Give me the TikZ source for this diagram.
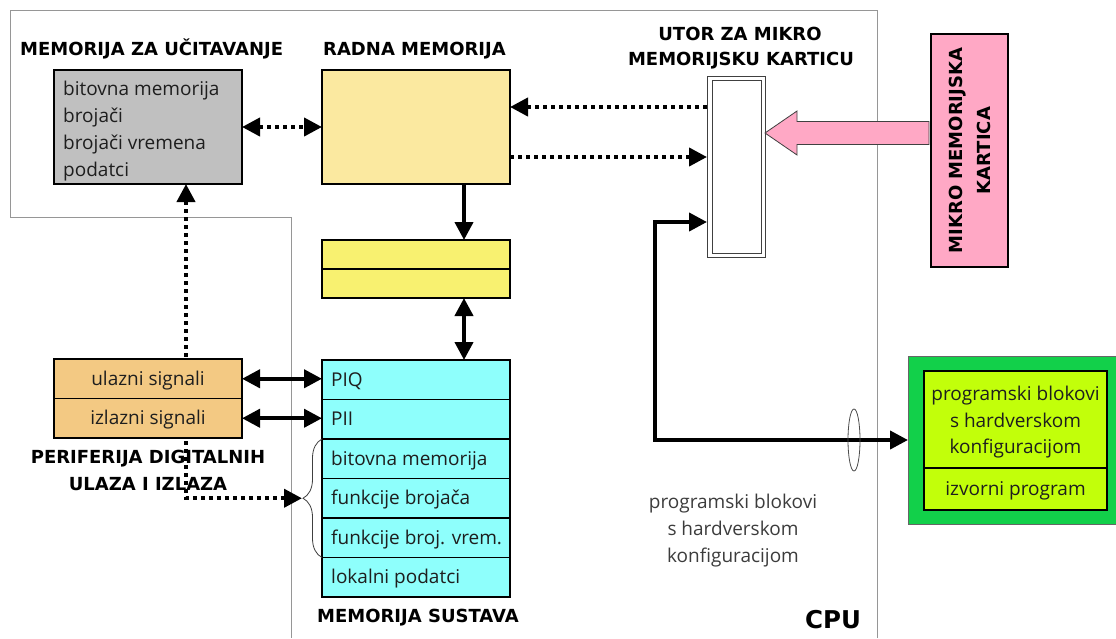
\documentclass[tikz,border=0pt]{standalone}
\usepackage{fontspec}
\setmainfont{Open Sans}
\newfontfamily\headfont{DejaVu Sans}
\usetikzlibrary{arrows.meta,decorations.pathreplacing,calc,shapes.geometric}

\definecolor{loadgray}{RGB}{192,192,192}
\definecolor{workyellow}{RGB}{251,233,160}
\definecolor{bufyellow}{RGB}{248,241,112}
\definecolor{syscyan}{RGB}{142,255,252}
\definecolor{ioorange}{RGB}{243,201,131}
\definecolor{cardpink}{RGB}{255,168,197}
\definecolor{extgreen}{RGB}{18,208,74}
\definecolor{extlime}{RGB}{194,255,10}
\definecolor{framegray}{RGB}{150,150,150}
\definecolor{inktext}{RGB}{30,30,30}
\definecolor{softtext}{RGB}{60,60,60}

\begin{document}
\begin{tikzpicture}[x=1pt,y=-1pt,
  >={Triangle[length=18pt,width=18pt]},
  blk/.style={draw=black, line width=1.2pt, inner sep=0pt, outer sep=0pt, anchor=north west},
  body/.style={font=\fontsize{19}{22}\selectfont, text=inktext, inner sep=0pt},
  ttl/.style={font=\headfont\fontsize{18}{21}\selectfont\bfseries, text=black, inner sep=0pt},
  solidline/.style={line width=4pt, line join=miter},
  dotline/.style={line width=4pt, dash pattern=on 4pt off 4pt},
  thin/.style={line width=0.8pt, draw=black!75}]

\useasboundingbox (0,0) rectangle (1116,638);

% CPU outline
\draw[framegray, line width=0.8pt] (877,638) -- (877,10) -- (10,10) -- (10,217) -- (291,217) -- (291,638);

% load memory
\node[blk, fill=loadgray, minimum width=188pt, minimum height=114pt] (load) at (54,70) {};
\node[ttl, anchor=base west] (loadT) at (20,55) {MEMORIJA ZA UČITAVANJE};
\node[body, anchor=base west] (load1) at (63,95) {bitovna memorija};
\node[body, anchor=base west] (load2) at (63,122) {brojači};
\node[body, anchor=base west] (load3) at (63,149) {brojači vremena};
\node[body, anchor=base west] (load4) at (63,176) {podatci};

% work memory
\node[blk, fill=workyellow, minimum width=188pt, minimum height=114pt] (work) at (322,70) {};
\node[ttl, anchor=base west] (workT) at (323,55) {RADNA MEMORIJA};

% buffer
\node[blk, fill=bufyellow, minimum width=188pt, minimum height=29pt] (buf1) at (322,240) {};
\node[blk, fill=bufyellow, minimum width=188pt, minimum height=29pt] (buf2) at (322,269) {};

% system memory
\foreach \i/\t in {1/PIQ,2/PII,3/bitovna memorija,4/funkcije brojača,5/funkcije broj. vrem.,6/lokalni podatci}{
  \node[blk, fill=syscyan, minimum width=188pt, minimum height=39.5pt] (sys\i) at (322,{360+(\i-1)*39.5}) {};
  \node[body, anchor=base west] (syst\i) at ($(sys\i.west)+(9,6.5)$) {\t};
}
\node[ttl, anchor=base] (sysT) at (418,622) {MEMORIJA SUSTAVA};

% brace over the grouped rows
\draw[thin, decorate, decoration={brace, amplitude=19pt}] (sys5.south west) -- (sys3.north west);
\coordinate (bracetip) at ($(sys4.west)+(-20,0)$);

% dotted link from the group to the load memory
\coordinate (lk) at ($(load.south west)+(132,0)$);
\draw[dotline, <->] (lk) -- (lk |- bracetip) -- (bracetip);

% digital I/O periphery
\node[blk, fill=ioorange, minimum width=188pt, minimum height=39.5pt] (in) at (54,359) {};
\node[blk, fill=ioorange, minimum width=188pt, minimum height=39.5pt] (out) at (54,398.5) {};
\node[body, anchor=base] (inT) at ($(in.center)+(0,6.5)$) {ulazni signali};
\node[body, anchor=base] (outT) at ($(out.center)+(0,6.5)$) {izlazni signali};
\node[ttl, anchor=base] (ioT1) at (148,463) {PERIFERIJA DIGITALNIH};
\node[ttl, anchor=base] (ioT2) at (148,490) {ULAZA I IZLAZA};

% card slot
\node[thin, fill=white, anchor=north west, inner sep=0pt, outer sep=0pt, minimum width=58pt, minimum height=181pt] (slot) at (707,76) {};
\draw[thin] ($(slot.north west)+(5,4)$) rectangle ($(slot.south east)+(-4,-4)$);
\node[ttl, anchor=base] (slotT1) at (740,40) {UTOR ZA MIKRO};
\node[ttl, anchor=base] (slotT2) at (741,65) {MEMORIJSKU KARTICU};

% micro memory card
\node[blk, fill=cardpink, minimum width=77pt, minimum height=233pt] (card) at (931,34) {};
\node[font=\headfont\fontsize{18}{28}\selectfont\bfseries, rotate=90, align=center, inner sep=0pt] (cardT) at (card.center) {MIKRO MEMORIJSKA\\KARTICA};

% insertion arrow
\coordinate (pktail) at (929,133);
\coordinate (pktip) at (slot.east |- pktail);
\draw[thin, fill=cardpink] (pktip) -- ($(pktip)+(32,-22)$) -- ($(pktip)+(32,-11.5)$) -- ($(pktail)+(0,-11.5)$)
  -- ($(pktail)+(0,11.5)$) -- ($(pktip)+(32,11.5)$) -- ($(pktip)+(32,22)$) -- cycle;

% external programming device
\node[blk, draw=black!60, line width=0.8pt, fill=extgreen, minimum width=208pt, minimum height=168pt] (ext) at (908,356) {};
\node[blk, fill=extlime, minimum width=183pt, minimum height=97pt] (ext1) at (924,371) {};
\node[blk, fill=extlime, minimum width=183pt, minimum height=42pt] (ext2) at (924,468) {};
\node[body, anchor=base] (extT1) at (1015.5,400) {programski blokovi};
\node[body, anchor=base] (extT2) at (1015.5,427) {s hardverskom};
\node[body, anchor=base] (extT3) at (1015.5,453) {konfiguracijom};
\node[body, anchor=base] (extT4) at (1015.5,495) {izvorni program};

% caption inside CPU
\node[body, text=softtext, anchor=base] (capT1) at (733,508) {programski blokovi};
\node[body, text=softtext, anchor=base] (capT2) at (733,535) {s hardverskom};
\node[body, text=softtext, anchor=base] (capT3) at (733,562) {konfiguracijom};
\node[font=\headfont\fontsize{24.5}{25}\selectfont\bfseries, anchor=base, inner sep=0pt] (cpuT) at (833,628) {CPU};

% connectors
\draw[dotline, <->] (load.east) -- (work.west);
\coordinate (wa) at ($(work.north east)+(0,37)$);
\coordinate (wb) at ($(work.north east)+(0,87)$);
\draw[dotline, <-] (wa) -- (wa -| slot.west);
\draw[dotline, ->] (wb) -- (wb -| slot.west);

\coordinate (wd) at ($(work.south east)+(-46,0)$);
\draw[solidline, ->] (wd) -- (wd |- buf1.north);
\coordinate (bd) at ($(buf2.south east)+(-46,0)$);
\draw[solidline, <->] (bd) -- (bd |- sys1.north);

\draw[solidline, <->] (in.east) -- (in.east -| sys1.west);
\draw[solidline, <->] (out.east) -- (out.east -| sys2.west);

\coordinate (sk) at ($(slot.north west)+(0,146)$);
\draw[solidline, <->] (sk) -- ($(sk)+(-52,0)$) |- (ext.west);
\node[thin, draw=black!70, ellipse, minimum width=12pt, minimum height=62pt, inner sep=0pt] (bus) at (854,440) {};

\end{tikzpicture}
\end{document}
